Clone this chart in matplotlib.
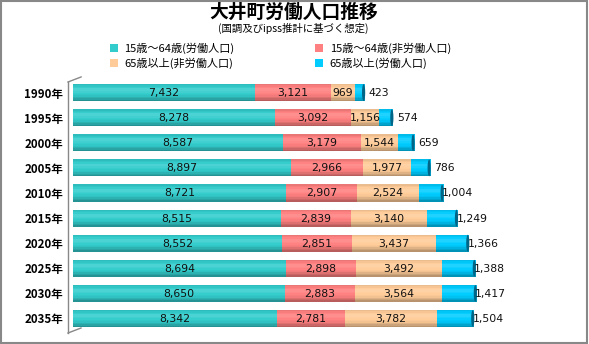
import matplotlib
matplotlib.use("Agg")
import matplotlib.pyplot as plt
import numpy as np
from matplotlib.patches import Ellipse, Rectangle, Patch
from matplotlib.lines import Line2D
import matplotlib.colors as mcolors

plt.rcParams['font.family'] = ['Noto Sans CJK JP', 'DejaVu Sans']

years = ['1990年', '1995年', '2000年', '2005年', '2010年', '2015年', '2020年', '2025年', '2030年', '2035年']
labor_15_64 = [7432, 8278, 8587, 8897, 8721, 8515, 8552, 8694, 8650, 8342]
nonlabor_15_64 = [3121, 3092, 3179, 2966, 2907, 2839, 2851, 2898, 2883, 2781]
nonlabor_65 = [969, 1156, 1544, 1977, 2524, 3140, 3437, 3492, 3564, 3782]
labor_65 = [423, 574, 659, 786, 1004, 1249, 1366, 1388, 1417, 1504]

series_names = ['15歳～64歳(労働人口)', '15歳～64歳(非労働人口)', '65歳以上(非労働人口)', '65歳以上(労働人口)']
series_vals = [labor_15_64, nonlabor_15_64, nonlabor_65, labor_65]
colors = ['#33CCCC', '#FF8080', '#FFCC99', '#00CCFF']

W, H = 589, 344
fig = plt.figure(figsize=(W / 100, H / 100), dpi=100)
fig.patch.set_facecolor('white')

def fx(px):
    return px / W

def fy(py):
    return 1 - py / H

ax_left, ax_right, ax_top, ax_bot = 73, 563, 77, 333
ax = fig.add_axes([fx(ax_left), fy(ax_bot), fx(ax_right - ax_left), (ax_bot - ax_top) / H])
ax.set_xlim(0, 20040)
ax.set_ylim(9.58, -0.62)
for s in ax.spines.values():
    s.set_visible(False)
ax.set_xticks([])
ax.set_yticks(range(len(years)))
ax.set_yticklabels(years, fontsize=8.3, fontweight='bold')
ax.tick_params(axis='y', length=0, pad=7)

y = np.arange(len(years))
bh = 0.68
nstrip = 12
# shading profile top -> bottom
prof = np.concatenate([np.linspace(0.92, 1.06, 4), np.linspace(1.06, 0.98, 4), np.linspace(0.95, 0.72, 4)])

def shade(c, f):
    r, g, b = mcolors.to_rgb(c)
    if f >= 1:
        t = f - 1
        return (r + (1 - r) * t * 2, g + (1 - g) * t * 2, b + (1 - b) * t * 2)
    return (r * f, g * f, b * f)

left = np.zeros(len(years))
for si, (vals, col) in enumerate(zip(series_vals, colors)):
    vals = np.array(vals, dtype=float)
    for k in range(nstrip):
        top = y - bh / 2 + k * bh / nstrip
        ax.barh(top + bh / nstrip / 2, vals, left=left, height=bh / nstrip * 1.02,
                color=shade(col, prof[k]), linewidth=0, zorder=2)
    for i in range(len(years)):
        if si < 3:
            ax.text(left[i] + vals[i] / 2, y[i] + 0.02, f'{int(vals[i]):,}', ha='center', va='center',
                    fontsize=7.8, family='DejaVu Sans', color='#111111', zorder=5)
    left = left + vals

# end caps and labels of last series
last = np.array(labor_65, dtype=float)
for i in range(len(years)):
    ax.add_patch(Ellipse((left[i] - 60, y[i]), 130, bh * 0.98, facecolor='#006688',
                         edgecolor='none', zorder=3))
    ax.annotate(f'{int(last[i]):,}', (left[i], y[i] + 0.02), xytext=(10, 0), textcoords='offset points',
                ha='center', va='center', fontsize=7.8, family='DejaVu Sans', color='#111111', zorder=6)

# 3D-ish axis wall
lc = '#888888'
fig.add_artist(Line2D([fx(68), fx(68)], [fy(82), fy(333)], color=lc, lw=1))
fig.add_artist(Line2D([fx(68), fx(81)], [fy(82), fy(77)], color=lc, lw=1))
fig.add_artist(Line2D([fx(81), fx(81)], [fy(77), fy(328)], color=lc, lw=1, zorder=0))
fig.add_artist(Line2D([fx(68), fx(81)], [fy(333), fy(328)], color=lc, lw=1))

# Title
fig.text(fx(294), fy(12), '大井町労働人口推移', ha='center', va='center', fontsize=13.5, fontweight='bold')
fig.text(fx(293), fy(28.5), '(国調及びipss推計に基づく想定)', ha='center', va='center', fontsize=7.5)

# Legend
handles = [Patch(facecolor=c, edgecolor='none') for c in colors]
order = [0, 2, 1, 3]
fig.legend([handles[i] for i in order], [series_names[i] for i in order], ncol=2,
           loc='center left', bbox_to_anchor=(fx(104), fy(56)), frameon=False, fontsize=8,
           handlelength=0.75, handleheight=0.75, handletextpad=0.6, columnspacing=7.2,
           labelspacing=0.35, borderpad=0)

# Border
fig.add_artist(Rectangle((0.002, 0.003), 0.995, 0.994, transform=fig.transFigure, fill=False,
                         edgecolor='#888888', lw=1.5))

fig.savefig('out.png', dpi=100)
